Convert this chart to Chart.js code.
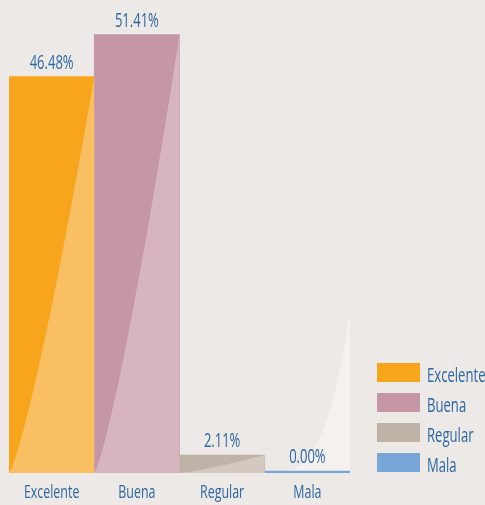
<!DOCTYPE html>
<html lang="es">
<head>
    <meta charset="UTF-8">
    <title>Calificación</title>
    <style>
        html, body {
            margin: 0;
            padding: 0;
            background: #EDE9E6;
        }
        .chart-container {
            position: relative;
            width: 485px;
            height: 505px;
        }
    </style>
    <script src="https://cdn.jsdelivr.net/npm/chart.js"></script>
</head>
<body>
    <div class="chart-container">
        <canvas id="ratingChart"></canvas>
    </div>

    <script>
        // chart data
        const categories = ['Excelente', 'Buena', 'Regular', 'Mala'];
        const percentages = [46.48, 51.41, 2.11, 0.00];
        // height (in %) reached by the light curved shading of each column
        const shadeTops = [46.48, 51.41, 2.11, 18.9];

        const barColors = ['#F8A51E', '#C596A5', '#BFB2A7', '#79A6D8'];
        const shadeColors = ['#F9BF62', '#D6B4C0', '#D3C9C1', '#F4F1EF'];
        const textColor = '#2D67A5';
        const fontFamily = "'Open Sans', 'Noto Sans', sans-serif";

        // text drawn horizontally squeezed to mimic the condensed face of the original
        function narrowText(ctx, text, x, y, size, squeeze, align) {
            ctx.save();
            ctx.font = size + 'px ' + fontFamily;
            ctx.fillStyle = textColor;
            ctx.textAlign = align;
            ctx.textBaseline = 'alphabetic';
            ctx.translate(x, y);
            ctx.scale(squeeze, 1);
            ctx.fillText(text, 0, 0);
            ctx.restore();
        }

        // draws the lighter curved area inside each column
        function drawShade(chart, i) {
            const ctx = chart.ctx;
            const bar = chart.getDatasetMeta(0).data[i];
            const yScale = chart.scales.y;
            const left = bar.x - bar.width / 2;
            const right = bar.x + bar.width / 2;
            const base = yScale.getPixelForValue(0);
            const top = yScale.getPixelForValue(shadeTops[i]);
            const exp = shadeTops[i] > percentages[i] ? 3.5 : 1.25;
            ctx.save();
            ctx.fillStyle = shadeColors[i];
            ctx.beginPath();
            ctx.moveTo(left, base);
            for (let s = 1; s <= 40; s++) {
                const f = s / 40;
                ctx.lineTo(left + f * (right - left), base - Math.pow(f, exp) * (base - top));
            }
            ctx.lineTo(right, base);
            ctx.closePath();
            ctx.fill();
            ctx.restore();
        }

        const shadePlugin = {
            id: 'shade',
            beforeDatasetsDraw(chart) {
                shadeTops.forEach((t, i) => { if (t > percentages[i]) drawShade(chart, i); });
            },
            afterDatasetsDraw(chart) {
                shadeTops.forEach((t, i) => { if (t <= percentages[i]) drawShade(chart, i); });
                const ctx = chart.ctx;
                const base = chart.scales.y.getPixelForValue(0);
                chart.getDatasetMeta(0).data.forEach((bar, i) => {
                    // value label above the column
                    narrowText(ctx, percentages[i].toFixed(2) + '%', bar.x, bar.y - 8, 20, 0.65, 'center');
                    // category label under the column
                    narrowText(ctx, categories[i], bar.x, base + 25, 18, 0.69, 'center');
                });
            },
            afterDraw(chart) {
                // legend on the right
                const ctx = chart.ctx;
                categories.forEach((c, i) => {
                    const y = 363 + i * 30;
                    ctx.fillStyle = barColors[i];
                    ctx.fillRect(377, y, 43, 19);
                    narrowText(ctx, c, 427, y + 19, 20, 0.655, 'left');
                });
            }
        };

        const ctx = document.getElementById('ratingChart').getContext('2d');
        new Chart(ctx, {
            type: 'bar',
            data: {
                labels: categories,
                datasets: [{
                    data: percentages,
                    backgroundColor: barColors,
                    borderWidth: 0,
                    minBarLength: 2,
                    categoryPercentage: 1.0,
                    barPercentage: 1.0
                }]
            },
            options: {
                responsive: true,
                maintainAspectRatio: false,
                animation: false,
                layout: {
                    padding: { left: 9, right: 135, top: 4, bottom: 32 }
                },
                plugins: {
                    legend: { display: false },
                    tooltip: { enabled: false }
                },
                scales: {
                    y: {
                        display: false,
                        min: 0,
                        max: 55
                    },
                    x: {
                        display: false
                    }
                }
            },
            plugins: [shadePlugin]
        });
    </script>
</body>
</html>
